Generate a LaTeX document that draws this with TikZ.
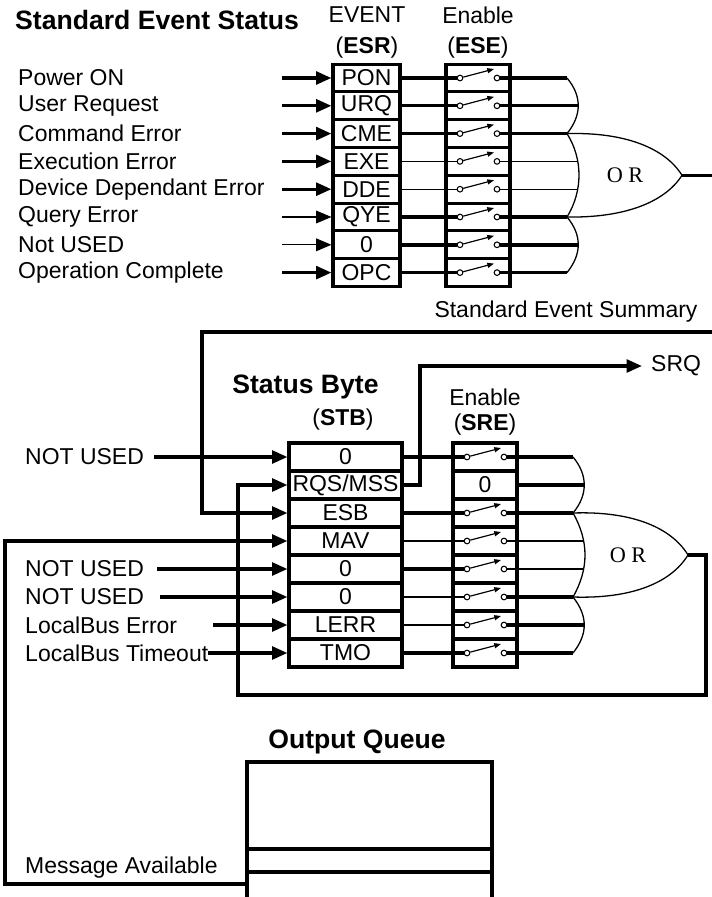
\documentclass[tikz,border=0pt]{standalone}
\usepackage{fontspec}
\setmainfont{Liberation Sans}
\newfontfamily\gatefont{Liberation Serif}
\usetikzlibrary{arrows.meta}
\tikzset{
  lbl/.style={inner sep=0pt, font=\fontsize{19.6}{22}\selectfont},
  ttl/.style={inner sep=0pt, font=\fontsize{22.7}{26}\selectfont\bfseries},
  reg/.style={draw, line width=2.6pt, inner sep=0pt, minimum height=0.834cm, font=\fontsize{19.6}{22}\selectfont},
  contact/.style={circle, draw, line width=0.9pt, fill=white, inner sep=0pt, minimum size=0.17cm},
  lever/.style={line width=1pt, -{Triangle[length=2mm,width=1.5mm]}},
  sig/.style={line width=2.9pt},
  wire/.style={line width=1pt},
  arr/.style={-{Triangle[length=4.6mm,width=3.8mm]}},
  gate/.style={line width=1.1pt},
  gatelbl/.style={inner sep=0pt, font=\gatefont\fontsize{19}{22}\selectfont},
}

\begin{document}
\begin{tikzpicture}[x=0.03cm, y=-0.03cm]
  \useasboundingbox (0,0) rectangle (712,897);

  % Titles
  \node[ttl, anchor=west] (sestitle) at (15,20) {Standard Event Status};
  \node[lbl] (esrhd) at (367,15) {EVENT};
  \node[lbl] (esrsub) at (367,48) {(\textbf{ESR})};
  \node[lbl] (esehd) at (478,15) {Enable};
  \node[lbl] (esesub) at (478,48) {(\textbf{ESE})};

  % Event register and enable switches
  \foreach \n [count=\i from 0] in {PON,URQ,CME,EXE,DDE,QYE,0,OPC} {
    \node[reg, minimum width=2.01cm] (esr\i) at (366.5,78+27.8*\i) {\n};
    \node[reg, minimum width=1.92cm] (ese\i) at (478,78+27.8*\i) {};
    \node[contact] (esea\i) at (460,78+27.8*\i) {};
    \node[contact] (eseb\i) at (497,78+27.8*\i) {};
    \draw[lever] (esea\i) -- ++(34,-9);
  }

  % Event inputs
  \foreach \t/\w [count=\i from 0] in {Power ON/sig,User Request/sig,Command Error/sig,Execution Error/sig,Device Dependant Error/sig,Query Error/wire,Not USED/wire,Operation Complete/sig} {
    \node[lbl, anchor=west] (evt\i) at (18,78+27.8*\i) {\t};
    \coordinate (evtin\i) at (282,78+27.8*\i);
    \draw[\w, arr] (evtin\i) -- (esr\i.west);
  }

  % ESR to ESE
  \foreach \w [count=\i from 0] in {sig,sig,sig,wire,wire,sig,sig,sig}
    \draw[\w] (esr\i.east) -- (esea\i);

  % ESE to gate
  \foreach \x/\w [count=\i from 0] in {567/sig,578/sig,567/sig,577/wire,577/wire,567/sig,578/sig,567/sig} {
    \coordinate (g1in\i) at (\x,78+27.8*\i);
    \draw[\w] (eseb\i) -- (g1in\i);
  }

  % OR gate (event summary)
  \coordinate (or1) at (682,175.3);
  \draw[gate] (g1in0) .. controls (582,96) and (582,115) .. (g1in2)
    .. controls (583,159) and (583,191) .. (g1in5)
    .. controls (582,235) and (582,254) .. (g1in7);
  \draw[gate] (g1in2) .. controls (625,132) and (665,148) .. (or1)
    .. controls (665,202) and (625,218) .. (g1in5);
  \node[gatelbl] (or1lbl) at (625,175.3) {O R};
  \coordinate (sesout) at (712,175.3);
  \draw[sig] (or1) -- (sesout);

  % Status byte and service request enable
  \node[ttl] (stbtitle) at (305.5,387) {Status Byte};
  \node[lbl] (stbsub) at (343,420) {(\textbf{STB})};
  \node[lbl] (srehd) at (485,397) {Enable};
  \node[lbl] (sresub) at (485,425) {(\textbf{SRE})};
  \foreach \n [count=\i from 0] in {0,{RQS/MSS},ESB,MAV,0,0,LERR,TMO} {
    \node[reg, minimum width=3.39cm, minimum height=0.84cm] (stb\i) at (345.5,457+28*\i) {\n};
    \node[reg, minimum width=1.92cm, minimum height=0.84cm] (sre\i) at (485,457+28*\i) {};
  }
  \node[lbl] (sre1lbl) at (sre1) {0};
  \foreach \i in {0,2,3,4,5,6,7} {
    \node[contact] (srea\i) at (467,457+28*\i) {};
    \node[contact] (sreb\i) at (504,457+28*\i) {};
    \draw[lever] (srea\i) -- ++(34,-9);
  }

  % Status byte inputs
  \foreach \t/\x/\i in {NOT USED/154/0,NOT USED/157/4,NOT USED/160/5,LocalBus Error/213/6,LocalBus Timeout/208/7} {
    \node[lbl, anchor=west] (sin\i) at (25,457+28*\i) {\t};
    \coordinate (sinx\i) at (\x,457+28*\i);
    \draw[sig, arr] (sinx\i) -- (stb\i.west);
  }

  % STB to SRE
  \foreach \i/\w in {0/sig,2/sig,3/wire,4/sig,5/wire,6/wire,7/sig}
    \draw[\w] (stb\i.east) -- (srea\i);

  % SRE to gate
  \foreach \x [count=\i from 0] in {573,584,573,583,583,573,584,573}
    \coordinate (g2in\i) at (\x,457+28*\i);
  \foreach \i/\w in {0/sig,2/sig,3/wire,4/wire,5/sig,6/sig,7/sig}
    \draw[\w] (sreb\i) -- (g2in\i);
  \draw[sig] (sre1.east) -- (g2in1);

  % OR gate (service request)
  \coordinate (or2) at (688,555);
  \draw[gate] (g2in0) .. controls (588,475) and (588,495) .. (g2in2)
    .. controls (589,541) and (589,569) .. (g2in5)
    .. controls (588,616) and (588,634) .. (g2in7);
  \draw[gate] (g2in2) .. controls (631,511) and (671,527) .. (or2)
    .. controls (671,583) and (631,599) .. (g2in5);
  \node[gatelbl] (or2lbl) at (628,555) {O R};

  % Summary loops
  \node[lbl] (seslbl) at (566,312) {Standard Event Summary};
  \coordinate (sesa) at (712,332);
  \coordinate (sesb) at (202,332);
  \draw[sig, arr] (sesa) -- (sesb) |- (stb2.west);

  \coordinate (rqsa) at (706,695);
  \coordinate (rqsb) at (238,695);
  \draw[sig, arr] (or2) -| (rqsa) -- (rqsb) |- (stb1.west);

  \node[lbl, anchor=west, inner xsep=0.27cm] (srq) at (642,366) {SRQ};
  \coordinate (srqa) at (420,366);
  \draw[sig, arr] (stb1.east) -| (srqa) -- (srq.west);

  % Output queue
  \node[ttl] (oqtitle) at (357,742) {Output Queue};
  \draw[sig] (247,897) -- (247,762) -- (492,762) -- (492,897);
  \draw[sig] (247,849) -- (492,849) (247,872) -- (492,872);
  \node[lbl, anchor=west] (msglbl) at (25,868) {Message Available};
  \coordinate (oqin) at (247,884);
  \coordinate (mavc) at (5,884);
  \draw[sig, arr] (oqin) -- (mavc) |- (stb3.west);
\end{tikzpicture}
\end{document}
